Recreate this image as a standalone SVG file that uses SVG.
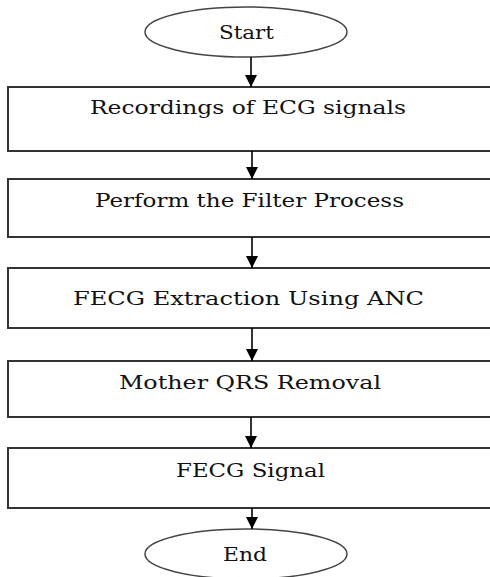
<svg xmlns="http://www.w3.org/2000/svg" width="490" height="577" viewBox="0 0 490 577">
<defs>
<marker id="ah" markerWidth="12" markerHeight="12" refX="12" refY="6" orient="auto" markerUnits="userSpaceOnUse" viewBox="0 0 12 12">
<path d="M0,0 L12,6 L0,12 Z" fill="#000"/>
</marker>
</defs>
<style>
.box{fill:#fff;stroke:#333;stroke-width:2}
.ell{fill:#fff;stroke:#444;stroke-width:1.5}
.t{font-family:"DejaVu Serif","Liberation Serif",serif;font-size:19px;fill:#111;text-anchor:middle}
.c{stroke:#000;stroke-width:1.6;fill:none;marker-end:url(#ah)}
</style>
<rect width="490" height="577" fill="#fff"/>
<g id="start"><ellipse class="ell" cx="246" cy="32" rx="101" ry="25"/><text class="t" x="246.5" y="39" textLength="55" lengthAdjust="spacingAndGlyphs">Start</text></g>
<g id="n1"><rect class="box" x="8" y="87" width="490" height="64"/><text class="t" x="248" y="114" textLength="316" lengthAdjust="spacingAndGlyphs">Recordings of ECG signals</text></g>
<g id="n2"><rect class="box" x="8" y="179" width="490" height="58"/><text class="t" x="249.5" y="207" textLength="309" lengthAdjust="spacingAndGlyphs">Perform the Filter Process</text></g>
<g id="n3"><rect class="box" x="8" y="268" width="490" height="60"/><text class="t" x="248.5" y="305" textLength="351" lengthAdjust="spacingAndGlyphs">FECG Extraction Using ANC</text></g>
<g id="n4"><rect class="box" x="8" y="361" width="490" height="56"/><text class="t" x="250" y="389" textLength="262" lengthAdjust="spacingAndGlyphs">Mother QRS Removal</text></g>
<g id="n5"><rect class="box" x="8" y="448" width="490" height="60"/><text class="t" x="250.5" y="477" textLength="149" lengthAdjust="spacingAndGlyphs">FECG Signal</text></g>
<g id="end"><ellipse class="ell" cx="246" cy="554" rx="101" ry="25"/><text class="t" x="245" y="561" textLength="44" lengthAdjust="spacingAndGlyphs">End</text></g>
<g id="connectors">
<line class="c" x1="251" y1="57" x2="251" y2="87"/>
<line class="c" x1="252" y1="151" x2="252" y2="179"/>
<line class="c" x1="252" y1="237" x2="252" y2="268"/>
<line class="c" x1="252" y1="328" x2="252" y2="361"/>
<line class="c" x1="251" y1="417" x2="251" y2="448"/>
<line class="c" x1="252" y1="508" x2="252" y2="529"/>
</g>
</svg>
